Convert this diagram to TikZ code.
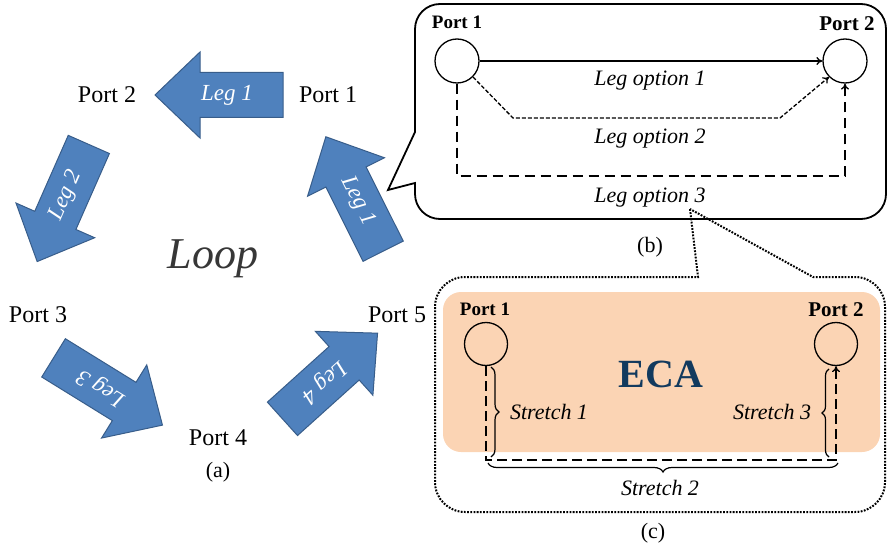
\documentclass[tikz,border=0pt]{standalone}
\usepackage{fontspec}
\setmainfont{Liberation Serif}
\usetikzlibrary{arrows.meta,decorations.pathreplacing}
\definecolor{legblue}{RGB}{79,129,189}
\definecolor{legedge}{RGB}{56,93,138}
\definecolor{ecafill}{RGB}{251,212,180}
\definecolor{ecatext}{RGB}{18,58,94}
\definecolor{loopgray}{RGB}{55,55,55}
\newcommand\myfs[1]{\fontsize{#1}{#1}\selectfont}
\newcommand\legarrow[5]{%
  \begin{scope}[shift={(#2,#3)}, rotate=#4]
    \draw[fat] (64,22.5) -- (-19,22.5) -- (-19,43) -- (-64,0) -- (-19,-43) -- (-19,-22.5) -- (64,-22.5) -- cycle;
    \node[legtxt, rotate=#4] (#1) at (8,0) {#5};
  \end{scope}}
\begin{document}
\begin{tikzpicture}[x=1pt,y=-1pt,
  lbl/.style={inner sep=0pt, anchor=base, font=\myfs{24}},
  legtxt/.style={text=white, font=\myfs{23}\itshape, inner sep=0pt},
  fat/.style={fill=legblue, draw=legedge, line width=1pt},
  portc/.style={circle, draw, line width=1.3pt, minimum size=44pt, inner sep=0pt},
  plbl/.style={inner sep=0pt, anchor=base, font=\myfs{19}\bfseries},
  opt/.style={inner sep=0pt, anchor=base, font=\myfs{22}\itshape},
  conn/.style={line width=1.3pt, -{To[length=6pt,width=8pt]}},
  bracestyle/.style={line width=1.2pt, decorate},
  captxt/.style={inner sep=0pt, anchor=base, font=\myfs{22}}
]
\useasboundingbox (0,0) rectangle (888,548);

% ---------- panel (a)
\legarrow{leg1a}{219}{95}{0}{Leg 1}
\legarrow{leg2}{63}{203}{66.2}{Leg 2}
\legarrow{leg1b}{354.5}{194}{-63.4}{Leg 1}
\legarrow{leg3}{108}{391.5}{148.3}{Leg 3}
\legarrow{leg4}{330}{376}{-138}{Leg 4}

\node[lbl] (p2) at (107,103) {Port 2};
\node[lbl] (p1) at (328,103) {Port 1};
\node[lbl] (p3) at (38,322) {Port 3};
\node[lbl] (p4) at (218,445) {Port 4};
\node[lbl] (p5) at (397,322) {Port 5};
\node[captxt] (capa) at (218,477) {(a)};
\node[anchor=base, inner sep=0pt, font=\myfs{44}\itshape, text=loopgray] (loop) at (213,268) {Loop};

% ---------- panel (b)
\draw[line width=1.8pt] (415,132) -- (388,190) -- (415,183) -- (415,194)
  .. controls (415,207.8) and (426.2,219) .. (440,219) -- (861,219)
  .. controls (874.8,219) and (886,207.8) .. (886,194) -- (886,29)
  .. controls (886,15.2) and (874.8,4) .. (861,4) -- (440,4)
  .. controls (426.2,4) and (415,15.2) .. (415,29) -- cycle;

\node[portc] (b1) at (457,61) {};
\node[portc] (b2) at (845,61) {};
\node[plbl] (b1l) at (457,29) {Port 1};
\node[plbl, font=\myfs{21}\bfseries] (b2l) at (847,31) {Port 2};

\draw[conn] (b1.east) -- (b2.west);
\draw[conn, dash pattern=on 4pt off 2pt] (b1.-45) -- (513,118) -- (780,118) -- (b2.-135);
\draw[conn, dash pattern=on 10pt off 6pt] (b1.south) -- (457,176) -- (845,176) -- (b2.south);

\node[opt] (o1) at (650,86) {Leg option 1};
\node[opt] (o2) at (650,144) {Leg option 2};
\node[opt] (o3) at (650,202) {Leg option 3};
\node[captxt] (capb) at (650,252) {(b)};

% ---------- panel (c)
\fill[ecafill, rounded corners=18pt] (443,292) rectangle (880,452);
\draw[line width=2pt, dash pattern=on 1.8pt off 1.4pt] (690,209) -- (698,277) -- (465,277)
  .. controls (448.4,277) and (435,290.4) .. (435,307) -- (435,482)
  .. controls (435,498.6) and (448.4,512) .. (465,512) -- (855,512)
  .. controls (871.6,512) and (885,498.6) .. (885,482) -- (885,307)
  .. controls (885,290.4) and (871.6,277) .. (855,277) -- (813,277) -- cycle;

\node[portc, minimum size=43pt] (c1) at (486,344) {};
\node[portc, minimum size=43pt] (c2) at (836,344) {};
\node[plbl] (c1l) at (485,315) {Port 1};
\node[plbl, font=\myfs{21}\bfseries] (c2l) at (836,316) {Port 2};
\node[anchor=base, inner sep=0pt, font=\myfs{40}\bfseries, text=ecatext] (eca) at (661,387) {ECA};

\draw[conn, dash pattern=on 10pt off 5pt] (c1.south) -- (486,460) -- (836,460) -- (c2.south);

\draw[bracestyle, decoration={brace, amplitude=8pt}] (491,367) -- (491,457);
\draw[bracestyle, decoration={brace, amplitude=7pt}] (829,457) -- (829,369);
\draw[bracestyle, decoration={brace, amplitude=9pt}] (838,463) -- (488,463);

\node[opt] (s1) at (549,419) {Stretch 1};
\node[opt] (s3) at (772,419) {Stretch 3};
\node[opt] (s2) at (660,495) {Stretch 2};
\node[captxt] (capc) at (653,538) {(c)};
\end{tikzpicture}
\end{document}
